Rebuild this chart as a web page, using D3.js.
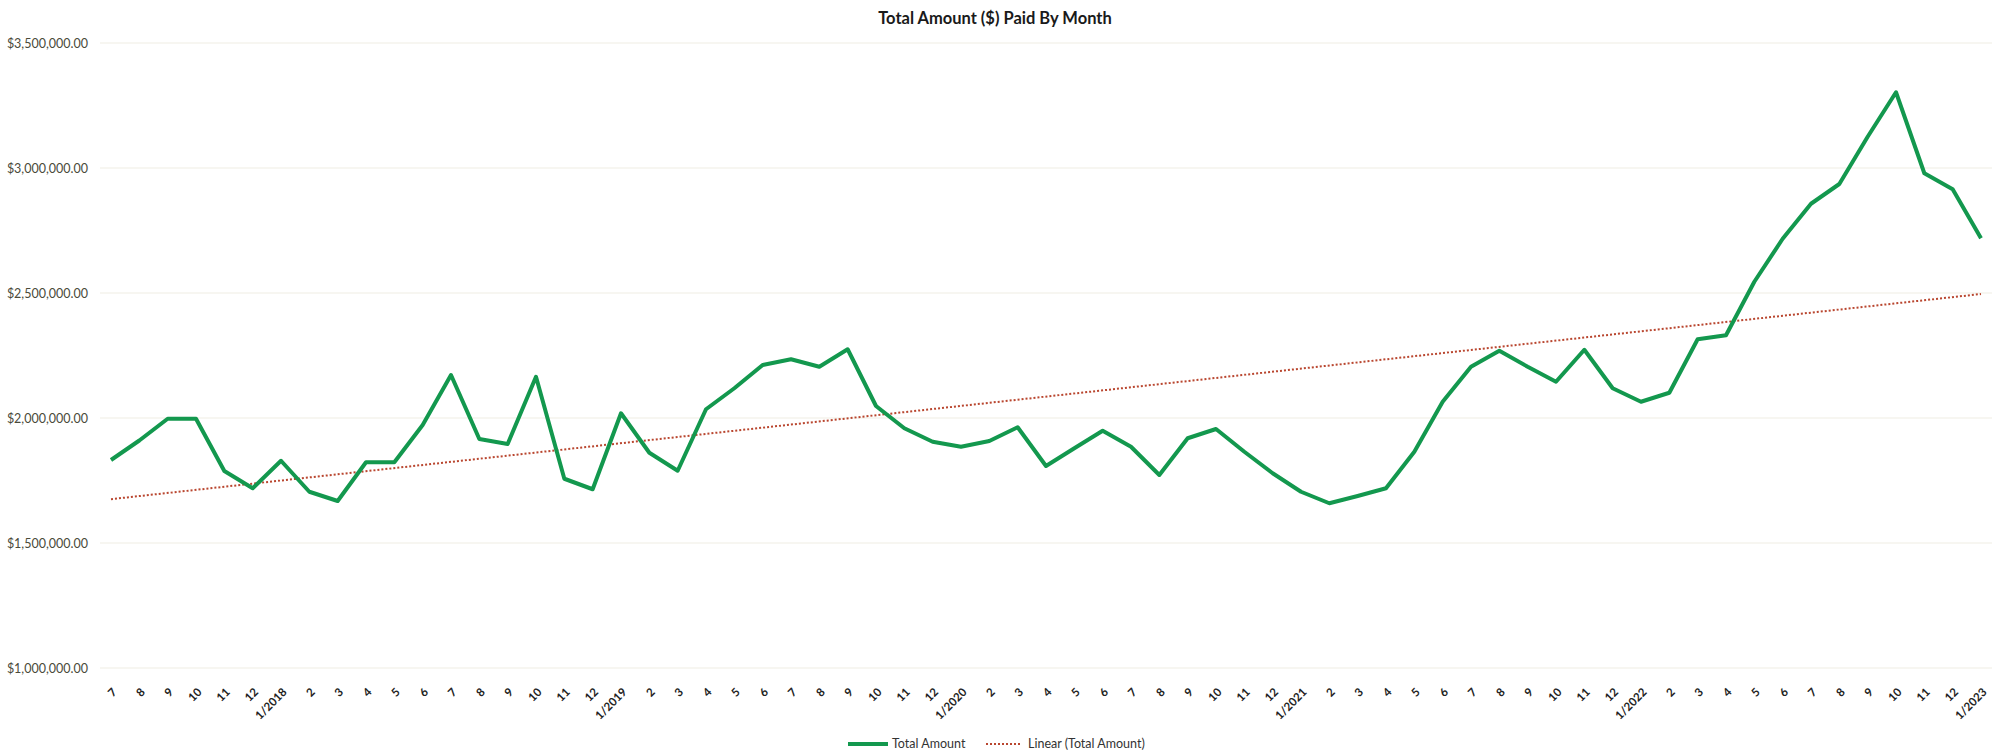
<!DOCTYPE html>
<html>
<head>
<meta charset="utf-8">
<script src="https://cdn.jsdelivr.net/npm/d3@7"></script>
<style>
  html, body { margin: 0; padding: 0; background: #ffffff; }
  svg { display: block; }
</style>
</head>
<body>
<svg id="chart" width="2000" height="753"></svg>
<script>
// ---- data ----
const categories = [
  "7","8","9","10","11","12",
  "1/2018","2","3","4","5","6","7","8","9","10","11","12",
  "1/2019","2","3","4","5","6","7","8","9","10","11","12",
  "1/2020","2","3","4","5","6","7","8","9","10","11","12",
  "1/2021","2","3","4","5","6","7","8","9","10","11","12",
  "1/2022","2","3","4","5","6","7","8","9","10","11","12",
  "1/2023"
];
const totalAmount = [
  1832000, 1910000, 1997000, 1997000, 1788000, 1719000,
  1829000, 1705000, 1668000, 1823000, 1823000, 1972000, 2172000, 1916000, 1896000, 2165000, 1757000, 1715000,
  2019000, 1861000, 1789000, 2035000, 2119000, 2212000, 2235000, 2205000, 2275000, 2048000, 1959000, 1905000,
  1885000, 1908000, 1963000, 1808000, 1879000, 1949000, 1885000, 1772000, 1919000, 1956000, 1865000, 1779000,
  1705000, 1659000, 1688000, 1719000, 1865000, 2065000, 2205000, 2269000, 2205000, 2145000, 2273000, 2119000,
  2065000, 2101000, 2315000, 2331000, 2545000, 2717000, 2857000, 2936000, 3125000, 3303000, 2979000, 2915000,
  2719000
];
const yTicks = [1000000, 1500000, 2000000, 2500000, 3000000, 3500000];
const titleText = "Total Amount ($) Paid By Month";
const seriesNames = ["Total Amount", "Linear (Total Amount)"];

// ---- layout ----
const svg = d3.select("#chart");
const W = 2000, H = 753;
const plotLeft = 100, plotRight = 1992;
const firstX = 111, lastX = 1981;

const x = d3.scalePoint().domain(d3.range(categories.length)).range([firstX, lastX]);
const y = d3.scaleLinear().domain([1000000, 3500000]).range([668, 43]);

const green = "#13984e";
const trendColor = "#b9462f";

// gridlines
svg.append("g").selectAll("line").data(yTicks).join("line")
  .attr("x1", plotLeft).attr("x2", plotRight)
  .attr("y1", d => y(d)).attr("y2", d => y(d))
  .attr("stroke", "#efeee4").attr("stroke-width", 1.2);

// y axis labels
const fmt = d3.format("$,.2f");
const yAxis = d3.axisLeft(y).tickValues(yTicks).tickFormat(fmt).tickSize(0).tickPadding(0);
const gy = svg.append("g").attr("transform", `translate(88,0)`).call(yAxis);
gy.select(".domain").remove();
gy.selectAll("text")
  .attr("font-family", "Lato, 'Open Sans', sans-serif")
  .attr("font-size", 12.5)
  .attr("fill", "#4a4a3a");

// x axis labels
const xAxis = d3.axisBottom(x).tickFormat(i => categories[i]).tickSize(0).tickPadding(0);
const gx = svg.append("g").attr("transform", `translate(0,688)`).call(xAxis);
gx.select(".domain").remove();
gx.selectAll("text")
  .attr("font-family", "Lato, 'Open Sans', sans-serif")
  .attr("font-size", 11.5)
  .attr("font-weight", "bold")
  .attr("fill", "#222")
  .attr("text-anchor", "end")
  .attr("dy", "0.35em")
  .attr("transform", "translate(3,2) rotate(-45)");

// trendline: ordinary least squares fit of the series
const n = totalAmount.length;
const xs = d3.range(n);
const mx = d3.mean(xs), my = d3.mean(totalAmount);
const slope = d3.sum(xs, i => (i - mx) * (totalAmount[i] - my)) / d3.sum(xs, i => (i - mx) ** 2);
const intercept = my - slope * mx;
const trend = [0, n - 1].map(i => [i, intercept + slope * i]);

svg.append("path")
  .datum(trend)
  .attr("fill", "none")
  .attr("stroke", trendColor)
  .attr("stroke-width", 2)
  .attr("stroke-dasharray", "2,2")
  .attr("d", d3.line().x(d => x(d[0])).y(d => y(d[1])));

// main line
svg.append("path")
  .datum(totalAmount)
  .attr("fill", "none")
  .attr("stroke", green)
  .attr("stroke-width", 4)
  .attr("stroke-linejoin", "round")
  .attr("d", d3.line().x((d, i) => x(i)).y(d => y(d)));

// title
svg.append("text")
  .attr("x", 995).attr("y", 24)
  .attr("text-anchor", "middle")
  .attr("font-family", "Lato, 'Open Sans', sans-serif")
  .attr("font-size", 16.5)
  .attr("font-weight", "bold")
  .attr("fill", "#1a1a1a")
  .text(titleText);

// legend
const lg = svg.append("g").attr("font-family", "Lato, 'Open Sans', sans-serif").attr("font-size", 12.5).attr("fill", "#333");
lg.append("line").attr("x1", 848).attr("x2", 888).attr("y1", 744).attr("y2", 744)
  .attr("stroke", green).attr("stroke-width", 4);
lg.append("text").attr("x", 892).attr("y", 748).text(seriesNames[0]);
lg.append("line").attr("x1", 986).attr("x2", 1022).attr("y1", 744).attr("y2", 744)
  .attr("stroke", trendColor).attr("stroke-width", 2).attr("stroke-dasharray", "2,2");
lg.append("text").attr("x", 1028).attr("y", 748).text(seriesNames[1]);
</script>
</body>
</html>
